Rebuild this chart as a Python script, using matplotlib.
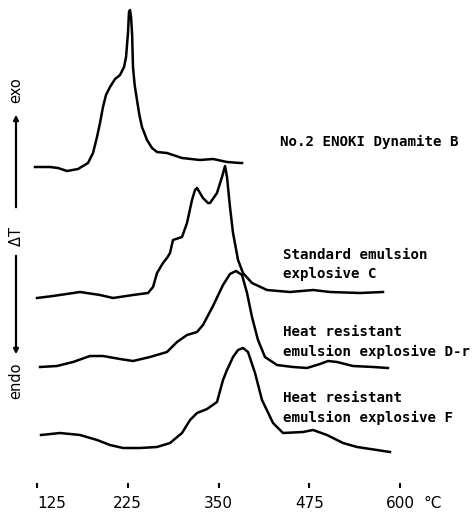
import numpy as np
import matplotlib.pyplot as plt

# temperature scale printed under the traces (equally spaced divisions)
tick_temps = [125, 225, 350, 475, 600]
tick_labels = ['125', '225', '350', '475', '600']

# No.2 ENOKI Dynamite B
temp_b = [122.8, 139.3, 148.1, 158.1, 170.2, 181.2, 186.7, 191.1, 194.4, 197.7,
          201.0, 205.4, 211.0, 216.5, 220.9, 223.1, 225.3, 226.7, 228.1, 229.5,
          230.9, 232.2, 234.5, 237.7, 241.0, 244.6, 251.5, 258.4, 265.3, 279.0,
          287.3, 299.7, 324.5, 342.4, 361.7, 379.6, 382.4]
dt_b = [0, 0, -1, -4, -2, 4, 14, 30, 44, 60,
        72, 80, 88, 92, 100, 110, 134, 155, 157, 150,
        134, 100, 82, 67, 52, 40, 27, 19, 15, 14,
        12, 9, 7, 8, 5, 4, 4]

# Standard emulsion explosive C
temp_c = [125.0, 142.6, 172.4, 194.4, 208.8, 232.2, 252.9, 259.8, 265.3, 273.5,
          279.0, 283.2, 287.3, 299.7, 306.6, 313.5, 317.6, 320.4, 328.6, 335.5,
          338.3, 347.9, 354.8, 359.0, 361.7, 365.8, 370.0, 376.9, 383.7, 396.1,
          416.8, 448.5, 480.2, 503.6, 544.9, 576.6]
dt_c = [0, 2, 6, 3, 0, 3, 5, 11, 25, 35,
        40, 45, 58, 61, 75, 98, 108, 110, 100, 95,
        95, 105, 121, 132, 121, 91, 65, 38, 25, 15,
        8, 6, 8, 6, 5, 6]

# Heat resistant emulsion explosive D-r
temp_d = [128.3, 147.0, 164.7, 183.4, 197.7, 216.5, 232.2, 255.6, 279.0, 292.8,
          306.6, 320.4, 328.6, 342.4, 356.2, 365.8, 374.1, 382.4, 389.3, 396.1,
          404.4, 414.0, 430.6, 452.6, 471.9, 489.8, 500.8, 513.2, 535.2, 562.8,
          583.4]
dt_d = [0, 1, 5, 11, 11, 8, 6, 10, 15, 25,
        32, 35, 42, 61, 82, 93, 96, 92, 74, 50,
        27, 10, 2, 0, -1, 3, 6, 5, 1, 0,
        -1]

# Heat resistant emulsion explosive F
temp_f = [129.4, 150.3, 172.4, 191.1, 205.4, 219.8, 241.9, 265.3, 283.2, 299.7,
          310.8, 320.4, 334.2, 347.9, 356.2, 361.7, 370.0, 376.9, 383.7, 390.6,
          393.4, 400.3, 409.9, 425.1, 438.8, 466.4, 480.2, 499.4, 521.5, 540.8,
          568.3, 586.2]
dt_f = [0, 2, 0, -5, -10, -13, -13, -12, -8, 2,
        15, 22, 26, 33, 55, 65, 78, 85, 87, 83,
        77, 62, 35, 12, 2, 3, 5, 0, -8, -12,
        -15, -17]

offsets = [321, 190, 121, 53]

# piecewise scale: each labelled temperature sits one division apart
scale_t = [25] + tick_temps + [725]
scale_u = list(range(-1, len(tick_temps) + 1))


def forward(t):
    return np.interp(t, scale_t, scale_u)


def inverse(u):
    return np.interp(u, scale_u, scale_t)


fig = plt.figure(figsize=(4.76, 5.14), dpi=100)
ax = fig.add_axes([0, 26 / 514, 1, 488 / 514])
ax.set_xscale('function', functions=(forward, inverse))
ax.set_xlim(84.2, 704.7)
ax.set_ylim(0, 488)

curves = [(temp_b, dt_b), (temp_c, dt_c), (temp_d, dt_d), (temp_f, dt_f)]
for (t, dt), off in zip(curves, offsets):
    ax.plot(t, np.array(dt) + off, color='black', lw=1.8, clip_on=False,
            solid_joinstyle='round')

for s in ax.spines.values():
    s.set_visible(False)
ax.set_yticks([])
ax.set_xticks(tick_temps)
ax.set_xticklabels(tick_labels, fontsize=11)
ax.xaxis.set_minor_locator(plt.NullLocator())
ax.tick_params(axis='x', direction='in', length=3.6, width=1.5, pad=5.5)
ax.get_xticklabels()[0].set_ha('left')
ax.annotate('°C', xy=(600, 0), xytext=(17, -5.5), textcoords='offset points',
            ha='left', va='top', fontsize=11)

# trace names
mono = dict(family='DejaVu Sans Mono', fontweight='bold', fontsize=10.2,
            ha='left', va='center')
ax.text(434.7, 346, 'No.2 ENOKI Dynamite B', **mono)
ax.text(438.8, 233, 'Standard emulsion', **mono)
ax.text(438.8, 214, 'explosive C', **mono)
ax.text(438.8, 156, 'Heat resistant', **mono)
ax.text(438.8, 136, 'emulsion explosive D-r', **mono)
ax.text(438.8, 90, 'Heat resistant', **mono)
ax.text(438.8, 70, 'emulsion explosive F', **mono)

# exo / endo indicator on the left
xl = 16 / 476
fig.text(xl, 1 - 90 / 514, 'exo', rotation=90, ha='center', va='center', fontsize=10.5)
ax.annotate('', xy=(xl, 1 - 112 / 514), xytext=(xl, 1 - 210 / 514),
            xycoords='figure fraction',
            arrowprops=dict(arrowstyle='-|>', lw=1.6, color='black', mutation_scale=7))
fig.text(xl, 1 - 236 / 514, r'$\Delta$T', rotation=90, ha='center', va='center',
         fontsize=10.5)
ax.annotate('', xy=(xl, 1 - 357 / 514), xytext=(xl, 1 - 253 / 514),
            xycoords='figure fraction',
            arrowprops=dict(arrowstyle='-|>', lw=1.6, color='black', mutation_scale=7))
fig.text(xl, 1 - 381 / 514, 'endo', rotation=90, ha='center', va='center', fontsize=10.5)

fig.savefig('out.png', dpi=100)
